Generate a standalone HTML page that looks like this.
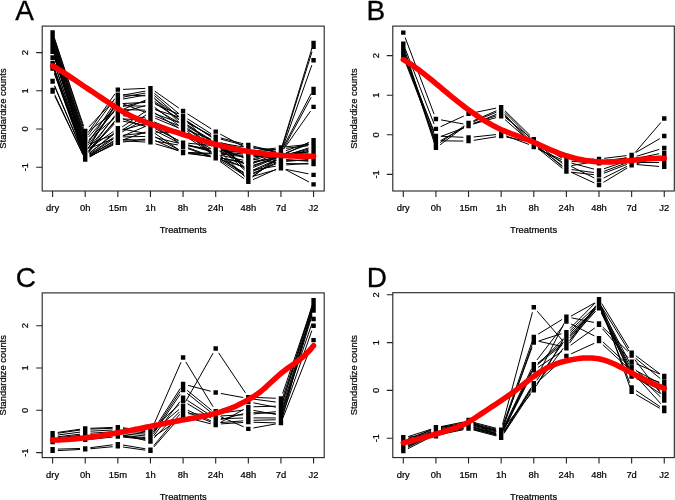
<!DOCTYPE html>
<html><head><meta charset="utf-8"><style>
html,body{margin:0;padding:0;background:#fff;width:675px;height:500px;overflow:hidden}
svg{display:block;will-change:transform}
.t{font-family:"Liberation Sans",sans-serif;font-size:9.4px;fill:#000;stroke:#000;stroke-width:0.22px}
.L{font-family:"Liberation Sans",sans-serif;font-size:28px;fill:#000;stroke:#000;stroke-width:0.3px}
</style></head><body>
<svg width="675" height="500" viewBox="0 0 675 500">
<rect width="675" height="500" fill="#fff"/>
<path d="M54.81 94.74L83.01 154.85M89.71 156.93L113.35 143.09M123.03 140.76L145.27 142.07M155.45 143.83L178.09 150.46M188.2 152.82L210.58 156.75M220.13 160.37L243.89 174.92M253.32 176.22L275.94 169.77M286.04 169.36L308.46 173.82M54.19 50.68L83.63 142.38M88.09 143L114.97 102.39M122.96 97.13L145.34 93.07M154.38 95.56L179.16 117.18M187.68 123.02L211.1 135.36M220.73 139.11L243.29 145.07M253.4 147.5L275.86 152.35M283.4 148.87L311.1 97.29M54.21 54.87L83.61 145.07M90.05 148.09L113.01 138.95M123.04 136.91L145.26 136.45M155.51 137.57L178.03 143.05M188.12 145.58L210.66 151.39M220.87 153.2L243.15 155.4M253.5 155.46L275.76 153.52M283.94 148.82L310.56 111.09M54.16 53.74L83.66 147.72M88.03 148.31L115.03 106.25M122.7 103.72L145.6 112.4M155.28 116.2L178.26 125.52M187.01 130.88L211.77 152.33M220.1 158.51L243.92 173.51M252.99 174L276.27 162.61M286.14 160.33L308.36 160.34M54.17 56.03L83.65 149.25M88.74 150.38L114.32 122.52M123.03 118.94L145.27 120.02M155.23 122.33L178.31 132.29M187.38 137.27L211.4 153.58M220.23 159.06L243.79 172.37M253.15 172.99L276.11 163.79M286.12 161.41L308.38 159.52M54.16 52.21L83.66 146.19M89.47 148.17L113.59 131.23M122.95 129.19L145.35 133.38M155.01 136.84L178.53 149.79M188.28 152.48L210.5 153.27M220.86 154.05L243.16 156.66M253.5 156.78L275.76 154.7M286.12 153.78L308.38 151.91M54.35 70.48L83.47 151.99M89.22 153.56L113.84 133.09M122.18 126.9L146.12 111.08M155.43 109.75L178.11 116.77M187.4 121.19L211.38 137.19M219.4 143.73L244.62 168.56M253.07 170.09L276.19 159.77M286.13 157.27L308.37 155.65M54.37 73.53L83.45 153.91M89.61 156.02L113.45 140.95M122.62 136.13L145.68 126.32M154.94 126.93L178.6 140.88M188.12 144.81L210.66 150.62M219.7 155.24L244.32 175.68M252.65 176.12L276.61 160.15M285.98 155.98L308.52 150.23M54.34 69.72L83.48 151.6M88.54 152.5L114.52 121.16M122.76 118.84L145.54 126.63M155.09 130.68L178.45 142.67M188.23 145.77L210.55 148.9M220.87 150.19L243.15 152.63M253.47 152.51L275.79 149.55M286.11 148.27L308.39 145.73M54.19 37.3L83.63 128.63M89.4 130.5L113.66 112.61M123.04 109.63L145.26 110.11M154.85 113.01L178.69 128.13M187.75 133.21L211.03 144.66M219.33 150.67L244.69 176.64M252.4 177.13L276.86 157.82M285.82 152.8L308.68 144.4M54.15 49.16L83.67 143.9M88.36 144.72L114.7 109.85M123.04 105.78L145.26 106.13M154.95 108.82L178.59 122.57M187.33 128.17L211.45 145.11M220.65 149.7L243.37 157.03M253.47 159.38L275.79 162.63M286.14 163.5L308.36 164.02M54.25 38.43L83.57 125.98M88.78 127.12L114.28 99.94M122.95 95.21L145.35 91.08M154.46 93.45L179.08 113.84M186.72 120.87L212.06 146.68M220.89 150.62L243.13 151.61M253.47 151.12L275.79 148.05M286.11 146.79L308.39 144.43M54.19 39.98L83.63 131.69M88.19 132.37L114.87 93.93M123.03 89.41L145.27 88.37M154.71 91.12L178.83 108.06M187.47 113.83L211.31 128.89M220.29 134.13L243.73 146.67M253.44 150.04L275.82 154.06M286.12 155.43L308.38 157.36M54.17 43.04L83.65 135.89M88.66 136.94L114.4 107.69M123.03 103.53L145.27 102.44M155.25 104.22L178.29 113.98M187.47 118.79L211.31 133.86M220.74 137.94L243.28 143.75M253.38 146.23L275.88 151.5M282.67 147.78L311.83 65.14M54.17 47.63L83.65 140.85M90.05 143.88L113.01 134.74M122.24 130.04L146.06 115.01M155.35 114L178.19 122.27M187.54 126.7L211.24 140.85M219.52 147.04L244.5 170.04M253.04 171.38L276.22 160.6M285.98 157.15L308.52 151.48M54.18 41.51L83.64 133.98M88.3 134.74L114.76 98.81M123.03 94.87L145.27 95.92M154.69 99.18L178.85 116.43M187.54 122.12L211.24 136.27M219.42 142.57L244.6 167.21M253.45 169.98L275.81 166.16M286.13 164.91L308.37 163.26M54.31 68.97L83.51 152.74M89.75 155.1L113.31 141.86M123.04 139.48L145.26 140.19M155.59 141.22L177.95 144.95M187.95 147.63L210.83 156.21M220.67 159.57L243.35 166.6M253.16 166.24L276.1 157.25M286.14 155.14L308.36 154.23M54.19 56.79L83.63 148.5M87.93 149.01L115.13 104.41M122.96 99.06L145.34 95.07M154.16 97.8L179.38 122.67M187.36 129.28L211.42 145.91M220.34 151.22L243.68 163.06M253.1 163.38L276.16 153.57M283.34 146.93L311.16 93.5M54.38 72.76L83.44 152.38M89.47 154.28L113.59 137.34M122.39 131.83L145.91 118.78M155.26 118.24L178.28 127.77M187.06 133.12L211.72 153.92M220.83 158.12L243.19 161.85M253.44 161.79L275.82 157.8M285.89 155.3L308.61 148M54.15 44.58L83.67 139.32M88.68 140.39L114.38 111.49M122.91 106.45L145.39 101.33M154.8 103.05L178.74 118.87M187.33 124.73L211.45 141.67M220 147.58L244.02 163.86M253.28 165.21L275.98 158.07M285.96 155.15L308.54 149.04M54.19 46.09L83.63 137.8M89.2 139.4L113.86 118.6M123.02 115.73L145.28 117.78M154.36 121.7L179.18 143.52M187.99 148.68L210.79 156.69M219.93 161.44L244.09 178.69M253.07 179.6L276.19 169.31M285.54 169.62L308.96 181.97M54.33 68.2L83.49 150.84M88.3 151.55L114.76 115.62M122.66 109.47L145.64 100.13M154.6 101.31L178.94 119.75M187.54 125.55L211.24 139.7M220.83 143.22L243.19 146.91M253.51 148.12L275.75 149.65M282.46 145.04L312.04 48.02M54.23 62.5L83.59 151.19M89.36 152.97L113.7 134.44M122.85 129.91L145.45 123.66M155.39 123.93L178.15 131.55M187.64 135.71L211.14 148.65M220.87 151.69L243.15 154.01M253.47 155.28L275.79 158.45M286.13 159.56L308.37 161.22M54.63 86.42L83.19 153.63M89.91 156.16L113.15 145M122.99 142.06L145.31 139.05M155.2 140.49L178.34 150.93M188.24 153.67L210.54 156.28M220.78 158L243.24 162.94M253.36 162.77L275.9 157.03M286.14 155.87L308.36 156.42M54.86 96.25L82.96 154.49M89.8 156.71L113.26 144.07M122.75 139.91L145.55 132.02M154.75 133.26L178.79 149.74M188.27 152.93L210.51 153.97M220.78 155.32L243.24 160.23M253.33 159.95L275.93 153.69M285.87 150.65L308.63 143M54.62 85.66L83.2 153.24M89.52 155.11L113.54 138.8M123.01 135.31L145.29 132.89M155.66 132.28L177.88 132.1M187.33 135.05L211.45 151.99M220.45 157.09L243.57 167.38M253.13 167.52L276.13 158.09M285.61 153.83L308.89 142.37M54.26 62.88L83.56 150.05M88.78 151.18L114.28 124.01M122.95 121.17L145.35 125.34M155.1 128.64L178.44 140.41M188.26 143.24L210.52 145.32M220.47 147.88L243.55 157.91M253.32 158.57L275.94 152.19M282.5 145.81L312 51.83M54.21 56.4L83.61 146.97M88.58 147.95L114.48 117.31M122.85 111.94L145.45 105.6M154.62 107.31L178.92 125.5M187.93 130.49L210.85 139.35M220.7 142.64L243.32 149.06M253.49 151.01L275.77 153.3M286.14 153.66L308.36 152.92" stroke="#000" stroke-width="1.0" fill="none"/>
<path d="M50.4 87.84h4.4v4.4h-4.4zM83.02 157.36h4.4v4.4h-4.4zM115.64 138.26h4.4v4.4h-4.4zM148.26 140.17h4.4v4.4h-4.4zM180.88 149.72h4.4v4.4h-4.4zM213.5 155.45h4.4v4.4h-4.4zM246.12 175.44h4.4v4.4h-4.4zM278.74 166.15h4.4v4.4h-4.4zM311.36 172.64h4.4v4.4h-4.4zM50.4 43.52h4.4v4.4h-4.4zM83.02 145.14h4.4v4.4h-4.4zM115.64 95.86h4.4v4.4h-4.4zM148.26 89.94h4.4v4.4h-4.4zM180.88 118.4h4.4v4.4h-4.4zM213.5 135.59h4.4v4.4h-4.4zM246.12 144.2h4.4v4.4h-4.4zM278.74 151.25h4.4v4.4h-4.4zM311.36 90.51h4.4v4.4h-4.4zM50.4 47.73h4.4v4.4h-4.4zM83.02 147.81h4.4v4.4h-4.4zM115.64 134.82h4.4v4.4h-4.4zM148.26 134.14h4.4v4.4h-4.4zM180.88 142.08h4.4v4.4h-4.4zM213.5 150.48h4.4v4.4h-4.4zM246.12 153.71h4.4v4.4h-4.4zM278.74 150.87h4.4v4.4h-4.4zM311.36 104.64h4.4v4.4h-4.4zM50.4 46.58h4.4v4.4h-4.4zM83.02 150.48h4.4v4.4h-4.4zM115.64 99.68h4.4v4.4h-4.4zM148.26 112.04h4.4v4.4h-4.4zM180.88 125.27h4.4v4.4h-4.4zM213.5 153.54h4.4v4.4h-4.4zM246.12 174.08h4.4v4.4h-4.4zM278.74 158.12h4.4v4.4h-4.4zM311.36 158.14h4.4v4.4h-4.4zM50.4 48.87h4.4v4.4h-4.4zM83.02 152.01h4.4v4.4h-4.4zM115.64 116.49h4.4v4.4h-4.4zM148.26 118.07h4.4v4.4h-4.4zM180.88 132.15h4.4v4.4h-4.4zM213.5 154.3h4.4v4.4h-4.4zM246.12 172.72h4.4v4.4h-4.4zM278.74 159.65h4.4v4.4h-4.4zM311.36 156.88h4.4v4.4h-4.4zM50.4 45.05h4.4v4.4h-4.4zM83.02 148.96h4.4v4.4h-4.4zM115.64 126.04h4.4v4.4h-4.4zM148.26 132.13h4.4v4.4h-4.4zM180.88 150.1h4.4v4.4h-4.4zM213.5 151.25h4.4v4.4h-4.4zM246.12 155.07h4.4v4.4h-4.4zM278.74 152.01h4.4v4.4h-4.4zM311.36 149.28h4.4v4.4h-4.4zM50.4 63.39h4.4v4.4h-4.4zM83.02 154.69h4.4v4.4h-4.4zM115.64 127.56h4.4v4.4h-4.4zM148.26 106.02h4.4v4.4h-4.4zM180.88 116.1h4.4v4.4h-4.4zM213.5 137.88h4.4v4.4h-4.4zM246.12 170.01h4.4v4.4h-4.4zM278.74 155.45h4.4v4.4h-4.4zM311.36 153.08h4.4v4.4h-4.4zM50.4 66.44h4.4v4.4h-4.4zM83.02 156.6h4.4v4.4h-4.4zM115.64 135.97h4.4v4.4h-4.4zM148.26 122.09h4.4v4.4h-4.4zM180.88 141.32h4.4v4.4h-4.4zM213.5 149.72h4.4v4.4h-4.4zM246.12 176.8h4.4v4.4h-4.4zM278.74 155.07h4.4v4.4h-4.4zM311.36 146.74h4.4v4.4h-4.4zM50.4 62.62h4.4v4.4h-4.4zM83.02 154.3h4.4v4.4h-4.4zM115.64 114.96h4.4v4.4h-4.4zM148.26 126.11h4.4v4.4h-4.4zM180.88 142.84h4.4v4.4h-4.4zM213.5 147.43h4.4v4.4h-4.4zM246.12 150.99h4.4v4.4h-4.4zM278.74 146.66h4.4v4.4h-4.4zM311.36 142.94h4.4v4.4h-4.4zM50.4 30.15h4.4v4.4h-4.4zM83.02 131.38h4.4v4.4h-4.4zM115.64 107.32h4.4v4.4h-4.4zM148.26 108.03h4.4v4.4h-4.4zM180.88 128.71h4.4v4.4h-4.4zM213.5 144.75h4.4v4.4h-4.4zM246.12 178.16h4.4v4.4h-4.4zM278.74 152.39h4.4v4.4h-4.4zM311.36 140.41h4.4v4.4h-4.4zM50.4 42h4.4v4.4h-4.4zM83.02 146.66h4.4v4.4h-4.4zM115.64 103.5h4.4v4.4h-4.4zM148.26 104.01h4.4v4.4h-4.4zM180.88 122.98h4.4v4.4h-4.4zM213.5 145.9h4.4v4.4h-4.4zM246.12 156.43h4.4v4.4h-4.4zM278.74 161.18h4.4v4.4h-4.4zM311.36 161.94h4.4v4.4h-4.4zM50.4 31.3h4.4v4.4h-4.4zM83.02 128.71h4.4v4.4h-4.4zM115.64 93.95h4.4v4.4h-4.4zM148.26 87.94h4.4v4.4h-4.4zM180.88 114.96h4.4v4.4h-4.4zM213.5 148.19h4.4v4.4h-4.4zM246.12 149.64h4.4v4.4h-4.4zM278.74 145.14h4.4v4.4h-4.4zM311.36 141.68h4.4v4.4h-4.4zM50.4 32.83h4.4v4.4h-4.4zM83.02 134.44h4.4v4.4h-4.4zM115.64 87.45h4.4v4.4h-4.4zM148.26 85.93h4.4v4.4h-4.4zM180.88 108.85h4.4v4.4h-4.4zM213.5 129.47h4.4v4.4h-4.4zM246.12 146.92h4.4v4.4h-4.4zM278.74 152.78h4.4v4.4h-4.4zM311.36 155.61h4.4v4.4h-4.4zM50.4 35.88h4.4v4.4h-4.4zM83.02 138.64h4.4v4.4h-4.4zM115.64 101.59h4.4v4.4h-4.4zM148.26 99.99h4.4v4.4h-4.4zM180.88 113.81h4.4v4.4h-4.4zM213.5 134.44h4.4v4.4h-4.4zM246.12 142.84h4.4v4.4h-4.4zM278.74 150.48h4.4v4.4h-4.4zM311.36 58.04h4.4v4.4h-4.4zM50.4 40.47h4.4v4.4h-4.4zM83.02 143.61h4.4v4.4h-4.4zM115.64 130.62h4.4v4.4h-4.4zM148.26 110.03h4.4v4.4h-4.4zM180.88 121.83h4.4v4.4h-4.4zM213.5 141.32h4.4v4.4h-4.4zM246.12 171.37h4.4v4.4h-4.4zM278.74 156.21h4.4v4.4h-4.4zM311.36 148.01h4.4v4.4h-4.4zM50.4 34.36h4.4v4.4h-4.4zM83.02 136.73h4.4v4.4h-4.4zM115.64 92.42h4.4v4.4h-4.4zM148.26 93.96h4.4v4.4h-4.4zM180.88 117.25h4.4v4.4h-4.4zM213.5 136.73h4.4v4.4h-4.4zM246.12 168.65h4.4v4.4h-4.4zM278.74 163.09h4.4v4.4h-4.4zM311.36 160.68h4.4v4.4h-4.4zM50.4 61.86h4.4v4.4h-4.4zM83.02 155.45h4.4v4.4h-4.4zM115.64 137.11h4.4v4.4h-4.4zM148.26 138.16h4.4v4.4h-4.4zM180.88 143.61h4.4v4.4h-4.4zM213.5 155.83h4.4v4.4h-4.4zM246.12 165.93h4.4v4.4h-4.4zM278.74 153.16h4.4v4.4h-4.4zM311.36 151.81h4.4v4.4h-4.4zM50.4 49.64h4.4v4.4h-4.4zM83.02 151.25h4.4v4.4h-4.4zM115.64 97.77h4.4v4.4h-4.4zM148.26 91.95h4.4v4.4h-4.4zM180.88 124.13h4.4v4.4h-4.4zM213.5 146.66h4.4v4.4h-4.4zM246.12 163.22h4.4v4.4h-4.4zM278.74 149.34h4.4v4.4h-4.4zM311.36 86.69h4.4v4.4h-4.4zM50.4 65.68h4.4v4.4h-4.4zM83.02 155.07h4.4v4.4h-4.4zM115.64 132.15h4.4v4.4h-4.4zM148.26 114.05h4.4v4.4h-4.4zM180.88 127.56h4.4v4.4h-4.4zM213.5 155.07h4.4v4.4h-4.4zM246.12 160.5h4.4v4.4h-4.4zM278.74 154.69h4.4v4.4h-4.4zM311.36 144.21h4.4v4.4h-4.4zM50.4 37.41h4.4v4.4h-4.4zM83.02 142.08h4.4v4.4h-4.4zM115.64 105.41h4.4v4.4h-4.4zM148.26 97.98h4.4v4.4h-4.4zM180.88 119.54h4.4v4.4h-4.4zM213.5 142.46h4.4v4.4h-4.4zM246.12 164.58h4.4v4.4h-4.4zM278.74 154.3h4.4v4.4h-4.4zM311.36 145.48h4.4v4.4h-4.4zM50.4 38.94h4.4v4.4h-4.4zM83.02 140.55h4.4v4.4h-4.4zM115.64 113.05h4.4v4.4h-4.4zM148.26 116.06h4.4v4.4h-4.4zM180.88 144.75h4.4v4.4h-4.4zM213.5 156.21h4.4v4.4h-4.4zM246.12 179.52h4.4v4.4h-4.4zM278.74 165h4.4v4.4h-4.4zM311.36 182.19h4.4v4.4h-4.4zM50.4 61.1h4.4v4.4h-4.4zM83.02 153.54h4.4v4.4h-4.4zM115.64 109.23h4.4v4.4h-4.4zM148.26 95.97h4.4v4.4h-4.4zM180.88 120.69h4.4v4.4h-4.4zM213.5 140.17h4.4v4.4h-4.4zM246.12 145.56h4.4v4.4h-4.4zM278.74 147.81h4.4v4.4h-4.4zM311.36 40.85h4.4v4.4h-4.4zM50.4 55.37h4.4v4.4h-4.4zM83.02 153.92h4.4v4.4h-4.4zM115.64 129.09h4.4v4.4h-4.4zM148.26 120.08h4.4v4.4h-4.4zM180.88 131h4.4v4.4h-4.4zM213.5 148.96h4.4v4.4h-4.4zM246.12 152.35h4.4v4.4h-4.4zM278.74 156.98h4.4v4.4h-4.4zM311.36 159.41h4.4v4.4h-4.4zM50.4 79.43h4.4v4.4h-4.4zM83.02 156.21h4.4v4.4h-4.4zM115.64 140.55h4.4v4.4h-4.4zM148.26 136.15h4.4v4.4h-4.4zM180.88 150.87h4.4v4.4h-4.4zM213.5 154.69h4.4v4.4h-4.4zM246.12 161.86h4.4v4.4h-4.4zM278.74 153.54h4.4v4.4h-4.4zM311.36 154.34h4.4v4.4h-4.4zM50.4 89.36h4.4v4.4h-4.4zM83.02 156.98h4.4v4.4h-4.4zM115.64 139.41h4.4v4.4h-4.4zM148.26 128.12h4.4v4.4h-4.4zM180.88 150.48h4.4v4.4h-4.4zM213.5 152.01h4.4v4.4h-4.4zM246.12 159.14h4.4v4.4h-4.4zM278.74 150.1h4.4v4.4h-4.4zM311.36 139.14h4.4v4.4h-4.4zM50.4 78.67h4.4v4.4h-4.4zM83.02 155.83h4.4v4.4h-4.4zM115.64 133.68h4.4v4.4h-4.4zM148.26 130.12h4.4v4.4h-4.4zM180.88 129.86h4.4v4.4h-4.4zM213.5 152.78h4.4v4.4h-4.4zM246.12 167.29h4.4v4.4h-4.4zM278.74 153.92h4.4v4.4h-4.4zM311.36 137.88h4.4v4.4h-4.4zM50.4 55.75h4.4v4.4h-4.4zM83.02 152.78h4.4v4.4h-4.4zM115.64 118.01h4.4v4.4h-4.4zM148.26 124.1h4.4v4.4h-4.4zM180.88 140.55h4.4v4.4h-4.4zM213.5 143.61h4.4v4.4h-4.4zM246.12 157.78h4.4v4.4h-4.4zM278.74 148.57h4.4v4.4h-4.4zM311.36 44.67h4.4v4.4h-4.4zM50.4 49.25h4.4v4.4h-4.4zM83.02 149.72h4.4v4.4h-4.4zM115.64 111.14h4.4v4.4h-4.4zM148.26 102h4.4v4.4h-4.4zM180.88 126.42h4.4v4.4h-4.4zM213.5 139.02h4.4v4.4h-4.4zM246.12 148.28h4.4v4.4h-4.4zM278.74 151.63h4.4v4.4h-4.4zM311.36 150.54h4.4v4.4h-4.4z" fill="#000"/>
<path d="M52.6 66 L54.79 67.19 L56.99 68.44 L59.18 69.75 L61.37 71.1 L63.56 72.5 L65.76 73.93 L67.95 75.39 L70.14 76.87 L72.34 78.35 L74.53 79.84 L76.72 81.32 L78.92 82.79 L81.11 84.26 L83.3 85.72 L85.49 87.18 L87.69 88.63 L89.88 90.09 L92.07 91.54 L94.27 93 L96.46 94.46 L98.65 95.93 L100.84 97.4 L103.04 98.87 L105.23 100.35 L107.42 101.82 L109.62 103.28 L111.81 104.73 L114 106.15 L116.2 107.56 L118.39 108.93 L120.58 110.27 L122.77 111.56 L124.97 112.82 L127.16 114.02 L129.35 115.18 L131.55 116.27 L133.74 117.31 L135.93 118.29 L138.12 119.23 L140.32 120.12 L142.51 120.98 L144.7 121.8 L146.9 122.59 L149.09 123.35 L151.28 124.1 L153.48 124.83 L155.67 125.55 L157.86 126.26 L160.05 126.97 L162.25 127.69 L164.44 128.4 L166.63 129.12 L168.83 129.83 L171.02 130.55 L173.21 131.27 L175.4 131.98 L177.6 132.69 L179.79 133.41 L181.98 134.12 L184.18 134.82 L186.37 135.52 L188.56 136.22 L190.76 136.91 L192.95 137.6 L195.14 138.28 L197.33 138.96 L199.53 139.62 L201.72 140.28 L203.91 140.94 L206.11 141.58 L208.3 142.21 L210.49 142.83 L212.68 143.45 L214.88 144.05 L217.07 144.64 L219.26 145.21 L221.46 145.78 L223.65 146.33 L225.84 146.86 L228.04 147.38 L230.23 147.89 L232.42 148.38 L234.61 148.86 L236.81 149.32 L239 149.76 L241.19 150.19 L243.39 150.61 L245.58 151 L247.77 151.39 L249.96 151.76 L252.16 152.11 L254.35 152.45 L256.54 152.77 L258.74 153.08 L260.93 153.38 L263.12 153.66 L265.32 153.92 L267.51 154.17 L269.7 154.41 L271.89 154.63 L274.09 154.84 L276.28 155.04 L278.47 155.22 L280.67 155.38 L282.86 155.54 L285.05 155.67 L287.24 155.8 L289.44 155.91 L291.63 156.01 L293.82 156.1 L296.02 156.17 L298.21 156.23 L300.4 156.27 L302.6 156.3 L304.79 156.32 L306.98 156.33 L309.17 156.32 L311.37 156.31 L313.56 156.27" stroke="#f00" stroke-width="5.5" fill="none" stroke-linecap="round" stroke-linejoin="round"/>
<rect x="42.2" y="26.1" width="282" height="164.9" fill="none" stroke="#222" stroke-width="1.1"/>
<path d="M52.6 191v6M85.22 191v6M117.84 191v6M150.46 191v6M183.08 191v6M215.7 191v6M248.32 191v6M280.94 191v6M313.56 191v6M42.2 52.6h-6M42.2 90.8h-6M42.2 129h-6M42.2 167.2h-6" stroke="#222" stroke-width="1.1" fill="none"/>
<text x="52.6" y="211.3" text-anchor="middle" class="t">dry</text>
<text x="85.22" y="211.3" text-anchor="middle" class="t">0h</text>
<text x="117.84" y="211.3" text-anchor="middle" class="t">15m</text>
<text x="150.46" y="211.3" text-anchor="middle" class="t">1h</text>
<text x="183.08" y="211.3" text-anchor="middle" class="t">8h</text>
<text x="215.7" y="211.3" text-anchor="middle" class="t">24h</text>
<text x="248.32" y="211.3" text-anchor="middle" class="t">48h</text>
<text x="280.94" y="211.3" text-anchor="middle" class="t">7d</text>
<text x="313.56" y="211.3" text-anchor="middle" class="t">J2</text>
<text transform="translate(28.3 52.6) rotate(-90)" text-anchor="middle" class="t">2</text>
<text transform="translate(28.3 90.8) rotate(-90)" text-anchor="middle" class="t">1</text>
<text transform="translate(28.3 129) rotate(-90)" text-anchor="middle" class="t">0</text>
<text transform="translate(28.3 167.2) rotate(-90)" text-anchor="middle" class="t">-1</text>
<text x="183.2" y="233" text-anchor="middle" class="t">Treatments</text>
<text transform="translate(6.2 108.55) rotate(-90)" text-anchor="middle" class="t">Standardize counts</text>
<text x="15.3" y="19.8" class="L">A</text>
<path d="M405.14 37.5L434.08 114.1M441.04 119.89L463.42 123.97M473.48 123.28L496.22 115.83M505.22 117.46L529.72 137.09M538.18 143.12L562 158.16M571.59 161.31L593.83 162.93M604.11 162.26L626.55 157.63M635.03 152.63L660.87 122.51M405.16 48.58L434.06 124M440.64 126.68L463.82 115.99M473.63 112.76L496.07 108.13M504.87 110.73L530.07 135.51M538.18 141.93L562 156.97M571.6 159.62L593.82 159.08M604.18 158.33L626.48 155.62M636.13 152.38L659.77 138.61M404.92 50.64L434.3 140.55M440.2 142.53L464.26 125.88M473.3 120.84L496.4 110.75M504.82 112.35L530.12 137.84M537.91 144.69L562.27 163.32M571.53 165.61L593.89 161.81M604.2 160.43L626.46 158.27M636.62 156.26L659.28 149.38M404.92 53.41L434.3 142.93M440.1 144.77L464.36 126.81M473.35 121.73L496.35 112.23M504.61 114.14L530.33 143.18M538.52 149.21L561.66 159.6M571.42 163.07L594 169.1M603.94 168.77L626.72 161.03M636.73 158.3L659.17 153.67M405.12 55.72L434.1 133.49M440.79 136.53L463.67 127.92M473.33 124.05L496.37 114.26M504.89 115.85L530.05 140.29M537.91 147.07L562.27 165.7M571.55 169.54L593.87 172.52M603.89 171.38L626.77 162.77M636.83 160.56L659.07 158.94M405.07 58.11L434.15 138.23M440.48 140.62L463.98 127.79M473.55 123.9L496.15 117.59M505.05 119.64L529.89 141.65M537.81 148.38L562.37 168.35M571.57 172.19L593.85 174.63M603.87 173.31L626.79 164.4M636.84 162.52L659.06 162.52M405.25 60.03L433.97 131.17M441.11 136.24L463.35 137.32M473.71 137.01L495.99 134.57M506.03 135.84L528.91 144.45M538.34 148.78L561.84 161.61M571.06 166.42L594.36 178.02M603.68 178.02L626.98 166.42M636.82 164.54L659.08 166.44M405.18 61.63L434.04 135.89M441.12 140.8L463.34 141.07M473.68 140.33L496.02 136.8M506.25 137.04L528.69 141.67M537.77 146.06L562.41 166.7M571.12 172.22L594.3 182.91M603.47 182.39L627.19 167.99M636.62 163.78L659.28 156.9" stroke="#000" stroke-width="1.0" fill="none"/>
<path d="M401.1 30.43h4.4v4.4h-4.4zM433.72 116.76h4.4v4.4h-4.4zM466.34 122.7h4.4v4.4h-4.4zM498.96 112.01h4.4v4.4h-4.4zM531.58 138.14h4.4v4.4h-4.4zM564.2 158.74h4.4v4.4h-4.4zM596.82 161.11h4.4v4.4h-4.4zM629.44 154.38h4.4v4.4h-4.4zM662.06 116.36h4.4v4.4h-4.4zM401.1 41.52h4.4v4.4h-4.4zM433.72 126.66h4.4v4.4h-4.4zM466.34 111.61h4.4v4.4h-4.4zM498.96 104.88h4.4v4.4h-4.4zM531.58 136.96h4.4v4.4h-4.4zM564.2 157.55h4.4v4.4h-4.4zM596.82 156.76h4.4v4.4h-4.4zM629.44 152.8h4.4v4.4h-4.4zM662.06 133.79h4.4v4.4h-4.4zM401.1 43.5h4.4v4.4h-4.4zM433.72 143.29h4.4v4.4h-4.4zM466.34 120.72h4.4v4.4h-4.4zM498.96 106.46h4.4v4.4h-4.4zM531.58 139.33h4.4v4.4h-4.4zM564.2 164.28h4.4v4.4h-4.4zM596.82 158.74h4.4v4.4h-4.4zM629.44 155.57h4.4v4.4h-4.4zM662.06 145.67h4.4v4.4h-4.4zM401.1 46.27h4.4v4.4h-4.4zM433.72 145.67h4.4v4.4h-4.4zM466.34 121.51h4.4v4.4h-4.4zM498.96 108.05h4.4v4.4h-4.4zM531.58 144.88h4.4v4.4h-4.4zM564.2 159.53h4.4v4.4h-4.4zM596.82 168.24h4.4v4.4h-4.4zM629.44 157.15h4.4v4.4h-4.4zM662.06 150.42h4.4v4.4h-4.4zM401.1 48.65h4.4v4.4h-4.4zM433.72 136.16h4.4v4.4h-4.4zM466.34 123.89h4.4v4.4h-4.4zM498.96 110.03h4.4v4.4h-4.4zM531.58 141.71h4.4v4.4h-4.4zM564.2 166.66h4.4v4.4h-4.4zM596.82 171.01h4.4v4.4h-4.4zM629.44 158.74h4.4v4.4h-4.4zM662.06 156.36h4.4v4.4h-4.4zM401.1 51.02h4.4v4.4h-4.4zM433.72 140.92h4.4v4.4h-4.4zM466.34 123.1h4.4v4.4h-4.4zM498.96 113.99h4.4v4.4h-4.4zM531.58 142.9h4.4v4.4h-4.4zM564.2 169.43h4.4v4.4h-4.4zM596.82 172.99h4.4v4.4h-4.4zM629.44 160.32h4.4v4.4h-4.4zM662.06 160.32h4.4v4.4h-4.4zM401.1 53h4.4v4.4h-4.4zM433.72 133.79h4.4v4.4h-4.4zM466.34 135.37h4.4v4.4h-4.4zM498.96 131.81h4.4v4.4h-4.4zM531.58 144.08h4.4v4.4h-4.4zM564.2 161.9h4.4v4.4h-4.4zM596.82 178.14h4.4v4.4h-4.4zM629.44 161.9h4.4v4.4h-4.4zM662.06 164.68h4.4v4.4h-4.4zM401.1 54.59h4.4v4.4h-4.4zM433.72 138.54h4.4v4.4h-4.4zM466.34 138.94h4.4v4.4h-4.4zM498.96 133.79h4.4v4.4h-4.4zM531.58 140.52h4.4v4.4h-4.4zM564.2 167.84h4.4v4.4h-4.4zM596.82 182.89h4.4v4.4h-4.4zM629.44 163.09h4.4v4.4h-4.4zM662.06 153.19h4.4v4.4h-4.4z" fill="#000"/>
<path d="M403.3 59.61 L405.49 60.88 L407.69 62.23 L409.88 63.63 L412.07 65.09 L414.26 66.61 L416.46 68.17 L418.65 69.78 L420.84 71.43 L423.04 73.12 L425.23 74.83 L427.42 76.58 L429.62 78.35 L431.81 80.15 L434 81.96 L436.19 83.78 L438.39 85.61 L440.58 87.45 L442.77 89.29 L444.97 91.12 L447.16 92.95 L449.35 94.76 L451.54 96.57 L453.74 98.35 L455.93 100.11 L458.12 101.86 L460.32 103.58 L462.51 105.27 L464.7 106.95 L466.9 108.59 L469.09 110.21 L471.28 111.79 L473.47 113.34 L475.67 114.87 L477.86 116.35 L480.05 117.8 L482.25 119.21 L484.44 120.58 L486.63 121.91 L488.82 123.19 L491.02 124.44 L493.21 125.63 L495.4 126.78 L497.6 127.88 L499.79 128.92 L501.98 129.92 L504.18 130.87 L506.37 131.77 L508.56 132.65 L510.75 133.49 L512.95 134.31 L515.14 135.12 L517.33 135.91 L519.53 136.71 L521.72 137.5 L523.91 138.3 L526.1 139.12 L528.3 139.96 L530.49 140.83 L532.68 141.73 L534.88 142.67 L537.07 143.65 L539.26 144.65 L541.46 145.67 L543.65 146.7 L545.84 147.71 L548.03 148.72 L550.23 149.69 L552.42 150.64 L554.61 151.54 L556.81 152.41 L559 153.25 L561.19 154.05 L563.38 154.81 L565.58 155.53 L567.77 156.22 L569.96 156.87 L572.16 157.48 L574.35 158.06 L576.54 158.6 L578.74 159.1 L580.93 159.56 L583.12 159.98 L585.31 160.36 L587.51 160.71 L589.7 161.02 L591.89 161.28 L594.09 161.51 L596.28 161.7 L598.47 161.84 L600.66 161.95 L602.86 162.02 L605.05 162.05 L607.24 162.04 L609.44 162 L611.63 161.94 L613.82 161.85 L616.02 161.73 L618.21 161.59 L620.4 161.43 L622.59 161.26 L624.79 161.07 L626.98 160.87 L629.17 160.66 L631.37 160.44 L633.56 160.22 L635.75 160 L637.94 159.79 L640.14 159.57 L642.33 159.36 L644.52 159.16 L646.72 158.97 L648.91 158.8 L651.1 158.64 L653.3 158.51 L655.49 158.39 L657.68 158.3 L659.87 158.23 L662.07 158.2 L664.26 158.2" stroke="#f00" stroke-width="5.5" fill="none" stroke-linecap="round" stroke-linejoin="round"/>
<rect x="392.8" y="26.1" width="281.5" height="164.9" fill="none" stroke="#222" stroke-width="1.1"/>
<path d="M403.3 191v6M435.92 191v6M468.54 191v6M501.16 191v6M533.78 191v6M566.4 191v6M599.02 191v6M631.64 191v6M664.26 191v6M392.8 55.6h-6M392.8 95.2h-6M392.8 134.8h-6M392.8 174.4h-6" stroke="#222" stroke-width="1.1" fill="none"/>
<text x="403.3" y="211.3" text-anchor="middle" class="t">dry</text>
<text x="435.92" y="211.3" text-anchor="middle" class="t">0h</text>
<text x="468.54" y="211.3" text-anchor="middle" class="t">15m</text>
<text x="501.16" y="211.3" text-anchor="middle" class="t">1h</text>
<text x="533.78" y="211.3" text-anchor="middle" class="t">8h</text>
<text x="566.4" y="211.3" text-anchor="middle" class="t">24h</text>
<text x="599.02" y="211.3" text-anchor="middle" class="t">48h</text>
<text x="631.64" y="211.3" text-anchor="middle" class="t">7d</text>
<text x="664.26" y="211.3" text-anchor="middle" class="t">J2</text>
<text transform="translate(378.9 55.6) rotate(-90)" text-anchor="middle" class="t">2</text>
<text transform="translate(378.9 95.2) rotate(-90)" text-anchor="middle" class="t">1</text>
<text transform="translate(378.9 134.8) rotate(-90)" text-anchor="middle" class="t">0</text>
<text transform="translate(378.9 174.4) rotate(-90)" text-anchor="middle" class="t">-1</text>
<text x="533.55" y="233" text-anchor="middle" class="t">Treatments</text>
<text transform="translate(356.8 108.55) rotate(-90)" text-anchor="middle" class="t">Standardize counts</text>
<text x="366.6" y="19.9" class="L">B</text>
<path d="M57.75 433.25L80.07 430.07M90.42 429.13L112.64 428.27M123 428.73L145.3 431.63M152.54 427.53L181 362.19M185.78 361.87L213 406.7M220.7 409.72L243.32 403.27M253.42 402.83L275.84 407.19M282.45 403.21L312.05 305.3M57.76 435.01L80.06 432.12M90.41 431.18L112.65 430.03M123 430.36L145.3 432.96M154.44 430.21L179.1 409.42M185.64 401.55L213.14 353.07M218.6 352.86L245.42 392.87M253.52 397.39L275.74 398.25M282.61 393.53L311.89 307.36M57.76 436.77L80.06 434.17M90.41 433.23L112.65 431.79M123.01 431.99L145.29 434.3M153.27 430.46L180.27 388.45M188.11 385.38L210.67 391.23M220.82 393.46L243.2 397.53M253.48 399.12L275.78 402.02M282.58 397.75L311.92 309.48M57.77 438.53L80.05 436.22M90.4 435.28L112.66 433.55M123.01 433.68L145.29 435.99M153.32 432.18L180.22 391.38M187.11 390.32L211.67 410.39M220.86 413.02L243.16 410.12M253.44 410.38L275.82 414.45M282.43 410.4L312.07 311.65M57.78 440.29L80.04 438.27M90.4 437.32L112.66 435.3M123.01 435.37L145.29 437.68M153.37 433.91L180.17 394.3M187.13 393.25L211.65 412.96M220.89 415.95L243.13 414.8M253.49 413.99L275.77 411.68M282.52 406.19L311.98 313.73M57.79 441.69L80.03 440.25M90.39 439.37L112.67 437.06M123.01 437.06L145.29 439.37M153.64 435.79L179.9 401.73M187.44 400.44L211.34 415.93M220.9 418.63L243.12 418.05M253.52 417.91L275.74 417.91M282.45 412.94L312.05 315.45M57.75 432.41L80.07 429.22M90.42 428.29L112.64 427.42M123 427.82L145.3 430.42M154.29 427.5L179.25 404.52M187.52 403.7L211.26 418.17M220.73 419.57L243.29 413.72M253.52 412.62L275.74 413.48M282.63 408.77L311.87 323.85M57.77 439.37L80.05 437.06M90.4 436.12L112.66 434.39M122.9 435.17L145.4 440.42M154.09 437.88L179.45 411.91M187.82 410.33L210.96 420.84M220.88 422.59L243.14 420.86M253.52 420.32L275.74 419.74M282.65 414.69L311.85 330.61M57.8 449.08L80.02 448.5M90.38 447.7L112.68 444.81M122.97 445L145.33 448.77M153.78 445.64L179.76 414.3M187.86 412.35L210.92 422.21M220.89 423.92L243.13 422.48M253.52 422.28L275.74 422.86M282.31 417.97L312.19 308.72M57.79 450.64L80.03 449.49M90.4 448.75L112.66 446.73M122.99 446.99L145.31 450.17M153.89 447L179.65 417.59M188.28 413.82L210.5 414.4M220.46 416.63L243.56 426.81M253.44 427.98L275.82 423.92M282.84 418.15L311.66 344.92M57.77 437.68L80.05 435.37M90.42 434.97L112.64 435.55M123.01 436.22L145.29 438.53M154.75 436.12L178.79 419.59M188.11 417.95L210.67 423.8M220.24 422.57L243.78 409.45M253.52 406.78L275.74 406.2M282.57 401.13L311.93 312.03" stroke="#000" stroke-width="1.0" fill="none"/>
<path d="M50.4 431.79h4.4v4.4h-4.4zM83.02 427.14h4.4v4.4h-4.4zM115.64 425.87h4.4v4.4h-4.4zM148.26 430.1h4.4v4.4h-4.4zM180.88 355.23h4.4v4.4h-4.4zM213.5 408.95h4.4v4.4h-4.4zM246.12 399.64h4.4v4.4h-4.4zM278.74 405.99h4.4v4.4h-4.4zM311.36 298.12h4.4v4.4h-4.4zM50.4 433.48h4.4v4.4h-4.4zM83.02 429.25h4.4v4.4h-4.4zM115.64 427.56h4.4v4.4h-4.4zM148.26 431.37h4.4v4.4h-4.4zM180.88 403.87h4.4v4.4h-4.4zM213.5 346.34h4.4v4.4h-4.4zM246.12 394.99h4.4v4.4h-4.4zM278.74 396.26h4.4v4.4h-4.4zM311.36 300.24h4.4v4.4h-4.4zM50.4 435.17h4.4v4.4h-4.4zM83.02 431.37h4.4v4.4h-4.4zM115.64 429.25h4.4v4.4h-4.4zM148.26 432.63h4.4v4.4h-4.4zM180.88 381.87h4.4v4.4h-4.4zM213.5 390.33h4.4v4.4h-4.4zM246.12 396.26h4.4v4.4h-4.4zM278.74 400.49h4.4v4.4h-4.4zM311.36 302.35h4.4v4.4h-4.4zM50.4 436.86h4.4v4.4h-4.4zM83.02 433.48h4.4v4.4h-4.4zM115.64 430.94h4.4v4.4h-4.4zM148.26 434.33h4.4v4.4h-4.4zM180.88 384.84h4.4v4.4h-4.4zM213.5 411.48h4.4v4.4h-4.4zM246.12 407.25h4.4v4.4h-4.4zM278.74 413.18h4.4v4.4h-4.4zM311.36 304.47h4.4v4.4h-4.4zM50.4 438.56h4.4v4.4h-4.4zM83.02 435.6h4.4v4.4h-4.4zM115.64 432.63h4.4v4.4h-4.4zM148.26 436.02h4.4v4.4h-4.4zM180.88 387.8h4.4v4.4h-4.4zM213.5 414.02h4.4v4.4h-4.4zM246.12 412.33h4.4v4.4h-4.4zM278.74 408.95h4.4v4.4h-4.4zM311.36 306.58h4.4v4.4h-4.4zM50.4 439.83h4.4v4.4h-4.4zM83.02 437.71h4.4v4.4h-4.4zM115.64 434.33h4.4v4.4h-4.4zM148.26 437.71h4.4v4.4h-4.4zM180.88 395.41h4.4v4.4h-4.4zM213.5 416.56h4.4v4.4h-4.4zM246.12 415.71h4.4v4.4h-4.4zM278.74 415.71h4.4v4.4h-4.4zM311.36 308.27h4.4v4.4h-4.4zM50.4 430.94h4.4v4.4h-4.4zM83.02 426.29h4.4v4.4h-4.4zM115.64 425.02h4.4v4.4h-4.4zM148.26 428.83h4.4v4.4h-4.4zM180.88 398.79h4.4v4.4h-4.4zM213.5 418.68h4.4v4.4h-4.4zM246.12 410.22h4.4v4.4h-4.4zM278.74 411.48h4.4v4.4h-4.4zM311.36 316.73h4.4v4.4h-4.4zM50.4 437.71h4.4v4.4h-4.4zM83.02 434.33h4.4v4.4h-4.4zM115.64 431.79h4.4v4.4h-4.4zM148.26 439.4h4.4v4.4h-4.4zM180.88 405.99h4.4v4.4h-4.4zM213.5 420.79h4.4v4.4h-4.4zM246.12 418.25h4.4v4.4h-4.4zM278.74 417.41h4.4v4.4h-4.4zM311.36 323.5h4.4v4.4h-4.4zM50.4 447.02h4.4v4.4h-4.4zM83.02 446.17h4.4v4.4h-4.4zM115.64 441.94h4.4v4.4h-4.4zM148.26 447.44h4.4v4.4h-4.4zM180.88 408.1h4.4v4.4h-4.4zM213.5 422.06h4.4v4.4h-4.4zM246.12 419.94h4.4v4.4h-4.4zM278.74 420.79h4.4v4.4h-4.4zM311.36 301.5h4.4v4.4h-4.4zM50.4 448.71h4.4v4.4h-4.4zM83.02 447.02h4.4v4.4h-4.4zM115.64 444.06h4.4v4.4h-4.4zM148.26 448.71h4.4v4.4h-4.4zM180.88 411.48h4.4v4.4h-4.4zM213.5 412.33h4.4v4.4h-4.4zM246.12 426.71h4.4v4.4h-4.4zM278.74 420.79h4.4v4.4h-4.4zM311.36 337.88h4.4v4.4h-4.4zM50.4 436.02h4.4v4.4h-4.4zM83.02 432.63h4.4v4.4h-4.4zM115.64 433.48h4.4v4.4h-4.4zM148.26 436.86h4.4v4.4h-4.4zM180.88 414.45h4.4v4.4h-4.4zM213.5 422.91h4.4v4.4h-4.4zM246.12 404.72h4.4v4.4h-4.4zM278.74 403.87h4.4v4.4h-4.4zM311.36 304.89h4.4v4.4h-4.4z" fill="#000"/>
<path d="M52.6 440.09 L54.79 440.05 L56.99 440 L59.18 439.92 L61.37 439.83 L63.56 439.73 L65.76 439.6 L67.95 439.46 L70.14 439.3 L72.34 439.13 L74.53 438.94 L76.72 438.74 L78.92 438.52 L81.11 438.29 L83.3 438.05 L85.49 437.79 L87.69 437.52 L89.88 437.24 L92.07 436.94 L94.27 436.64 L96.46 436.32 L98.65 436 L100.84 435.66 L103.04 435.31 L105.23 434.96 L107.42 434.6 L109.62 434.22 L111.81 433.84 L114 433.46 L116.2 433.06 L118.39 432.66 L120.58 432.26 L122.77 431.84 L124.97 431.42 L127.16 431 L129.35 430.58 L131.55 430.14 L133.74 429.71 L135.93 429.27 L138.12 428.83 L140.32 428.39 L142.51 427.95 L144.7 427.5 L146.9 427.05 L149.09 426.61 L151.28 426.16 L153.48 425.71 L155.67 425.27 L157.86 424.82 L160.05 424.38 L162.25 423.94 L164.44 423.5 L166.63 423.07 L168.83 422.64 L171.02 422.21 L173.21 421.79 L175.4 421.37 L177.6 420.95 L179.79 420.55 L181.98 420.14 L184.18 419.75 L186.37 419.36 L188.56 418.97 L190.76 418.58 L192.95 418.19 L195.14 417.79 L197.33 417.39 L199.53 416.97 L201.72 416.54 L203.91 416.1 L206.11 415.63 L208.3 415.15 L210.49 414.64 L212.68 414.1 L214.88 413.53 L217.07 412.93 L219.26 412.3 L221.46 411.62 L223.65 410.91 L225.84 410.15 L228.04 409.35 L230.23 408.5 L232.42 407.6 L234.61 406.65 L236.81 405.65 L239 404.6 L241.19 403.51 L243.39 402.37 L245.58 401.19 L247.77 399.97 L249.96 398.7 L252.16 397.4 L254.35 396.05 L256.54 394.61 L258.74 393.03 L260.93 391.32 L263.12 389.49 L265.32 387.56 L267.51 385.57 L269.7 383.54 L271.89 381.49 L274.09 379.45 L276.28 377.44 L278.47 375.49 L280.67 373.63 L282.86 371.86 L285.05 370.19 L287.24 368.59 L289.44 367.03 L291.63 365.48 L293.82 363.93 L296.02 362.35 L298.21 360.72 L300.4 359 L302.6 357.18 L304.79 355.23 L306.98 353.12 L309.17 350.84 L311.37 348.35 L313.56 345.64" stroke="#f00" stroke-width="5.5" fill="none" stroke-linecap="round" stroke-linejoin="round"/>
<rect x="42.2" y="292.9" width="282" height="164.7" fill="none" stroke="#222" stroke-width="1.1"/>
<path d="M52.6 457.6v6M85.22 457.6v6M117.84 457.6v6M150.46 457.6v6M183.08 457.6v6M215.7 457.6v6M248.32 457.6v6M280.94 457.6v6M313.56 457.6v6M42.2 325.7h-6M42.2 368h-6M42.2 410.3h-6M42.2 452.6h-6" stroke="#222" stroke-width="1.1" fill="none"/>
<text x="52.6" y="477.9" text-anchor="middle" class="t">dry</text>
<text x="85.22" y="477.9" text-anchor="middle" class="t">0h</text>
<text x="117.84" y="477.9" text-anchor="middle" class="t">15m</text>
<text x="150.46" y="477.9" text-anchor="middle" class="t">1h</text>
<text x="183.08" y="477.9" text-anchor="middle" class="t">8h</text>
<text x="215.7" y="477.9" text-anchor="middle" class="t">24h</text>
<text x="248.32" y="477.9" text-anchor="middle" class="t">48h</text>
<text x="280.94" y="477.9" text-anchor="middle" class="t">7d</text>
<text x="313.56" y="477.9" text-anchor="middle" class="t">J2</text>
<text transform="translate(28.3 325.7) rotate(-90)" text-anchor="middle" class="t">2</text>
<text transform="translate(28.3 368) rotate(-90)" text-anchor="middle" class="t">1</text>
<text transform="translate(28.3 410.3) rotate(-90)" text-anchor="middle" class="t">0</text>
<text transform="translate(28.3 452.6) rotate(-90)" text-anchor="middle" class="t">-1</text>
<text x="183.2" y="499.6" text-anchor="middle" class="t">Treatments</text>
<text transform="translate(6.2 375.25) rotate(-90)" text-anchor="middle" class="t">Standardize counts</text>
<text x="15.8" y="286.5" class="L">C</text>
<path d="M408.25 436.6L430.97 429.28M441.01 426.64L463.45 422.04M473.57 422.32L496.13 428.27M502.5 424.57L532.44 312.25M537.18 311.16L563 341.05M569.52 340.83L595.9 305.65M601.17 306.23L629.49 368.46M636.59 374.79L659.31 382.11M408.21 438.39L431.01 430.37M441.01 427.59L463.45 422.99M473.57 423.27L496.13 429.23M502.87 425.64L532.07 341.77M538.21 334.14L561.97 319.51M571.49 317.83L593.93 322.43M602.76 327.1L627.9 351.41M635.66 358.33L660.24 378.5M408.16 440.17L431.06 431.45M441.01 428.55L463.45 423.95M473.57 424.23L496.13 430.18M502.95 426.63L531.99 347.48M538.73 341L561.45 333.68M570.06 328.39L595.36 302.8M601.73 303.54L628.93 348.2M635.81 355.75L660.09 373.9M408.11 441.96L431.11 432.53M441.01 429.51L463.45 424.91M473.57 425.19L496.13 431.14M503.4 427.77L531.54 368.8M536.94 359.98L563.24 325.69M571.03 323.94L594.39 335.92M602.84 341.83L627.82 364.88M636.24 370.84L659.66 383.19M408.06 443.76L431.16 433.6M441.01 430.46L463.45 425.86M473.57 426.14L496.13 432.09M503.44 428.75L531.5 371.17M537.8 363.2L562.38 343.03M569.93 335.91L595.49 308.18M601.44 308.96L629.22 361.9M635.6 369.87L660.3 390.86M408.01 445.55L431.21 434.67M441.01 431.42L463.45 426.82M473.57 427.1L496.13 433.05M503.47 429.71L531.47 373.07M537.46 364.74L562.72 339.58M570.25 332.41L595.17 309.77M601.21 310.99L629.45 371.82M636.37 378.69L659.53 389.21M407.95 447.35L431.27 435.74M441.01 432.37L463.45 427.77M473.57 428.05L496.13 434.01M503.49 430.68L531.45 374.97M538.09 367.42L562.09 351.24M570.62 345.3L594.8 327.95M602.47 328.81L628.19 357.83M636.4 363.81L659.5 373.97M407.93 448.73L431.29 436.75M441.01 433.33L463.45 428.73M473.57 429.01L496.13 434.96M503.88 431.86L531.06 387.66M536.13 378.59L564.05 323.34M570.94 316.17L594.48 303.07M600.77 305.43L629.89 386.94M636.13 394.46L659.77 408.32M408.49 436.94L430.73 435.64M441.01 434.29L463.45 429.69M473.57 429.97L496.13 435.92M503.94 432.85L531 390.02M537.63 382.12L562.55 359.48M571.13 353.83L594.29 343.32M602.84 344.69L627.82 367.75M635.11 375.15L660.79 403.74M408.48 438.7L430.74 436.74M440.57 433.97L463.89 422.35M473.11 422.51L496.59 435.24M504.01 433.37L530.93 392.36M536.88 383.83L563.3 348.21M569.85 340.14L595.57 311.12M601.44 311.83L629.22 364.76M635.41 372.95L660.49 396.85M407.98 440.72L431.24 429.47M441.1 426.75L463.36 424.79M473.63 425.38L496.07 429.98M504.42 426.98L530.52 394.45M536.38 385.9L563.8 338.5M570.19 330.44L595.23 306.96M600.9 308.25L629.76 382.68M635.95 390.44L659.95 406.61M407.98 444.54L431.24 433.29M441.07 430.28L463.39 427M473.57 427.58L496.13 433.53M503.43 430.17L531.51 372.14M537.86 364.23L562.32 344.87M569.87 337.77L595.55 309.19M601.23 310.02L629.43 369.92M635.98 377.49L659.92 393.27M407.98 446.45L431.24 435.21M440.87 431.35L463.59 424.02M473.49 424.02L496.21 431.35M502.89 428.04L532.05 345.12M538.86 341.33L561.32 346.26M569.45 343.17L595.97 306.66M601.74 306.88L628.92 351.08M634.8 359.63L661.1 393.92M408.03 442.74L431.19 432.22M441.11 429.77L463.35 428.47M473.6 429.35L496.1 434.62M503.96 431.43L530.98 389.05M536.75 380.4L563.43 342.09M570.25 334.32L595.17 311.68M601.27 312.87L629.39 371.37M636.5 377.91L659.4 386.64" stroke="#000" stroke-width="1.0" fill="none"/>
<path d="M401.1 436h4.4v4.4h-4.4zM433.72 425.48h4.4v4.4h-4.4zM466.34 418.79h4.4v4.4h-4.4zM498.96 427.4h4.4v4.4h-4.4zM531.58 305.03h4.4v4.4h-4.4zM564.2 342.79h4.4v4.4h-4.4zM596.82 299.29h4.4v4.4h-4.4zM629.44 370.99h4.4v4.4h-4.4zM662.06 381.51h4.4v4.4h-4.4zM401.1 437.91h4.4v4.4h-4.4zM433.72 426.44h4.4v4.4h-4.4zM466.34 419.75h4.4v4.4h-4.4zM498.96 428.35h4.4v4.4h-4.4zM531.58 334.66h4.4v4.4h-4.4zM564.2 314.59h4.4v4.4h-4.4zM596.82 321.28h4.4v4.4h-4.4zM629.44 352.83h4.4v4.4h-4.4zM662.06 379.6h4.4v4.4h-4.4zM401.1 439.82h4.4v4.4h-4.4zM433.72 427.4h4.4v4.4h-4.4zM466.34 420.7h4.4v4.4h-4.4zM498.96 429.31h4.4v4.4h-4.4zM531.58 340.4h4.4v4.4h-4.4zM564.2 329.88h4.4v4.4h-4.4zM596.82 296.9h4.4v4.4h-4.4zM629.44 350.44h4.4v4.4h-4.4zM662.06 374.82h4.4v4.4h-4.4zM401.1 441.74h4.4v4.4h-4.4zM433.72 428.35h4.4v4.4h-4.4zM466.34 421.66h4.4v4.4h-4.4zM498.96 430.26h4.4v4.4h-4.4zM531.58 361.91h4.4v4.4h-4.4zM564.2 319.37h4.4v4.4h-4.4zM596.82 336.1h4.4v4.4h-4.4zM629.44 366.21h4.4v4.4h-4.4zM662.06 383.42h4.4v4.4h-4.4zM401.1 443.65h4.4v4.4h-4.4zM433.72 429.31h4.4v4.4h-4.4zM466.34 422.62h4.4v4.4h-4.4zM498.96 431.22h4.4v4.4h-4.4zM531.58 364.3h4.4v4.4h-4.4zM564.2 337.53h4.4v4.4h-4.4zM596.82 302.16h4.4v4.4h-4.4zM629.44 364.3h4.4v4.4h-4.4zM662.06 392.02h4.4v4.4h-4.4zM401.1 445.56h4.4v4.4h-4.4zM433.72 430.26h4.4v4.4h-4.4zM466.34 423.57h4.4v4.4h-4.4zM498.96 432.18h4.4v4.4h-4.4zM531.58 366.21h4.4v4.4h-4.4zM564.2 333.71h4.4v4.4h-4.4zM596.82 304.07h4.4v4.4h-4.4zM629.44 374.34h4.4v4.4h-4.4zM662.06 389.16h4.4v4.4h-4.4zM401.1 447.47h4.4v4.4h-4.4zM433.72 431.22h4.4v4.4h-4.4zM466.34 424.53h4.4v4.4h-4.4zM498.96 433.13h4.4v4.4h-4.4zM531.58 368.12h4.4v4.4h-4.4zM564.2 346.14h4.4v4.4h-4.4zM596.82 322.71h4.4v4.4h-4.4zM629.44 359.52h4.4v4.4h-4.4zM662.06 373.86h4.4v4.4h-4.4zM401.1 448.91h4.4v4.4h-4.4zM433.72 432.18h4.4v4.4h-4.4zM466.34 425.48h4.4v4.4h-4.4zM498.96 434.09h4.4v4.4h-4.4zM531.58 381.03h4.4v4.4h-4.4zM564.2 316.5h4.4v4.4h-4.4zM596.82 298.34h4.4v4.4h-4.4zM629.44 389.63h4.4v4.4h-4.4zM662.06 408.75h4.4v4.4h-4.4zM401.1 435.04h4.4v4.4h-4.4zM433.72 433.13h4.4v4.4h-4.4zM466.34 426.44h4.4v4.4h-4.4zM498.96 435.04h4.4v4.4h-4.4zM531.58 383.42h4.4v4.4h-4.4zM564.2 353.78h4.4v4.4h-4.4zM596.82 338.97h4.4v4.4h-4.4zM629.44 369.08h4.4v4.4h-4.4zM662.06 405.41h4.4v4.4h-4.4zM401.1 436.96h4.4v4.4h-4.4zM433.72 434.09h4.4v4.4h-4.4zM466.34 417.84h4.4v4.4h-4.4zM498.96 435.52h4.4v4.4h-4.4zM531.58 385.81h4.4v4.4h-4.4zM564.2 341.83h4.4v4.4h-4.4zM596.82 305.03h4.4v4.4h-4.4zM629.44 367.17h4.4v4.4h-4.4zM662.06 398.24h4.4v4.4h-4.4zM401.1 440.78h4.4v4.4h-4.4zM433.72 425.01h4.4v4.4h-4.4zM466.34 422.14h4.4v4.4h-4.4zM498.96 428.83h4.4v4.4h-4.4zM531.58 388.2h4.4v4.4h-4.4zM564.2 331.8h4.4v4.4h-4.4zM596.82 301.2h4.4v4.4h-4.4zM629.44 385.33h4.4v4.4h-4.4zM662.06 407.32h4.4v4.4h-4.4zM401.1 444.6h4.4v4.4h-4.4zM433.72 428.83h4.4v4.4h-4.4zM466.34 424.05h4.4v4.4h-4.4zM498.96 432.65h4.4v4.4h-4.4zM531.58 365.26h4.4v4.4h-4.4zM564.2 339.44h4.4v4.4h-4.4zM596.82 303.12h4.4v4.4h-4.4zM629.44 372.43h4.4v4.4h-4.4zM662.06 393.94h4.4v4.4h-4.4zM401.1 446.52h4.4v4.4h-4.4zM433.72 430.74h4.4v4.4h-4.4zM466.34 420.23h4.4v4.4h-4.4zM498.96 430.74h4.4v4.4h-4.4zM531.58 338.01h4.4v4.4h-4.4zM564.2 345.18h4.4v4.4h-4.4zM596.82 300.25h4.4v4.4h-4.4zM629.44 353.31h4.4v4.4h-4.4zM662.06 395.85h4.4v4.4h-4.4zM401.1 442.69h4.4v4.4h-4.4zM433.72 427.87h4.4v4.4h-4.4zM466.34 425.96h4.4v4.4h-4.4zM498.96 433.61h4.4v4.4h-4.4zM531.58 382.46h4.4v4.4h-4.4zM564.2 335.62h4.4v4.4h-4.4zM596.82 305.98h4.4v4.4h-4.4zM629.44 373.86h4.4v4.4h-4.4zM662.06 386.29h4.4v4.4h-4.4z" fill="#000"/>
<path d="M403.3 442.92 L405.49 442.35 L407.69 441.77 L409.88 441.2 L412.07 440.62 L414.26 440.05 L416.46 439.47 L418.65 438.88 L420.84 438.29 L423.04 437.7 L425.23 437.1 L427.42 436.5 L429.62 435.88 L431.81 435.26 L434 434.63 L436.19 434 L438.39 433.35 L440.58 432.69 L442.77 432.01 L444.97 431.33 L447.16 430.63 L449.35 429.92 L451.54 429.19 L453.74 428.44 L455.93 427.66 L458.12 426.83 L460.32 425.95 L462.51 425.01 L464.7 423.98 L466.9 422.88 L469.09 421.67 L471.28 420.37 L473.47 418.99 L475.67 417.56 L477.86 416.09 L480.05 414.61 L482.25 413.14 L484.44 411.68 L486.63 410.23 L488.82 408.78 L491.02 407.32 L493.21 405.87 L495.4 404.42 L497.6 402.95 L499.79 401.48 L501.98 400 L504.18 398.5 L506.37 396.99 L508.56 395.46 L510.75 393.9 L512.95 392.32 L515.14 390.72 L517.33 389.09 L519.53 387.42 L521.72 385.72 L523.91 384 L526.1 382.27 L528.3 380.55 L530.49 378.84 L532.68 377.17 L534.88 375.54 L537.07 373.98 L539.26 372.49 L541.46 371.09 L543.65 369.78 L545.84 368.56 L548.03 367.43 L550.23 366.37 L552.42 365.4 L554.61 364.5 L556.81 363.67 L559 362.91 L561.19 362.22 L563.38 361.58 L565.58 361 L567.77 360.48 L569.96 360.01 L572.16 359.58 L574.35 359.2 L576.54 358.86 L578.74 358.56 L580.93 358.31 L583.12 358.11 L585.31 357.98 L587.51 357.91 L589.7 357.92 L591.89 358 L594.09 358.17 L596.28 358.43 L598.47 358.78 L600.66 359.24 L602.86 359.79 L605.05 360.45 L607.24 361.19 L609.44 362.01 L611.63 362.9 L613.82 363.85 L616.02 364.86 L618.21 365.92 L620.4 367.02 L622.59 368.14 L624.79 369.29 L626.98 370.45 L629.17 371.62 L631.37 372.79 L633.56 373.95 L635.75 375.1 L637.94 376.24 L640.14 377.37 L642.33 378.48 L644.52 379.57 L646.72 380.64 L648.91 381.7 L651.1 382.73 L653.3 383.75 L655.49 384.73 L657.68 385.7 L659.87 386.63 L662.07 387.54 L664.26 388.41" stroke="#f00" stroke-width="5.5" fill="none" stroke-linecap="round" stroke-linejoin="round"/>
<rect x="392.8" y="292.7" width="281.5" height="164.9" fill="none" stroke="#222" stroke-width="1.1"/>
<path d="M403.3 457.6v6M435.92 457.6v6M468.54 457.6v6M501.16 457.6v6M533.78 457.6v6M566.4 457.6v6M599.02 457.6v6M631.64 457.6v6M664.26 457.6v6M392.8 294.8h-6M392.8 342.6h-6M392.8 390.4h-6M392.8 438.2h-6" stroke="#222" stroke-width="1.1" fill="none"/>
<text x="403.3" y="477.9" text-anchor="middle" class="t">dry</text>
<text x="435.92" y="477.9" text-anchor="middle" class="t">0h</text>
<text x="468.54" y="477.9" text-anchor="middle" class="t">15m</text>
<text x="501.16" y="477.9" text-anchor="middle" class="t">1h</text>
<text x="533.78" y="477.9" text-anchor="middle" class="t">8h</text>
<text x="566.4" y="477.9" text-anchor="middle" class="t">24h</text>
<text x="599.02" y="477.9" text-anchor="middle" class="t">48h</text>
<text x="631.64" y="477.9" text-anchor="middle" class="t">7d</text>
<text x="664.26" y="477.9" text-anchor="middle" class="t">J2</text>
<text transform="translate(378.9 294.8) rotate(-90)" text-anchor="middle" class="t">2</text>
<text transform="translate(378.9 342.6) rotate(-90)" text-anchor="middle" class="t">1</text>
<text transform="translate(378.9 390.4) rotate(-90)" text-anchor="middle" class="t">0</text>
<text transform="translate(378.9 438.2) rotate(-90)" text-anchor="middle" class="t">-1</text>
<text x="533.55" y="499.6" text-anchor="middle" class="t">Treatments</text>
<text transform="translate(356.8 375.15) rotate(-90)" text-anchor="middle" class="t">Standardize counts</text>
<text x="366.8" y="286.6" class="L">D</text>
</svg>
</body></html>
